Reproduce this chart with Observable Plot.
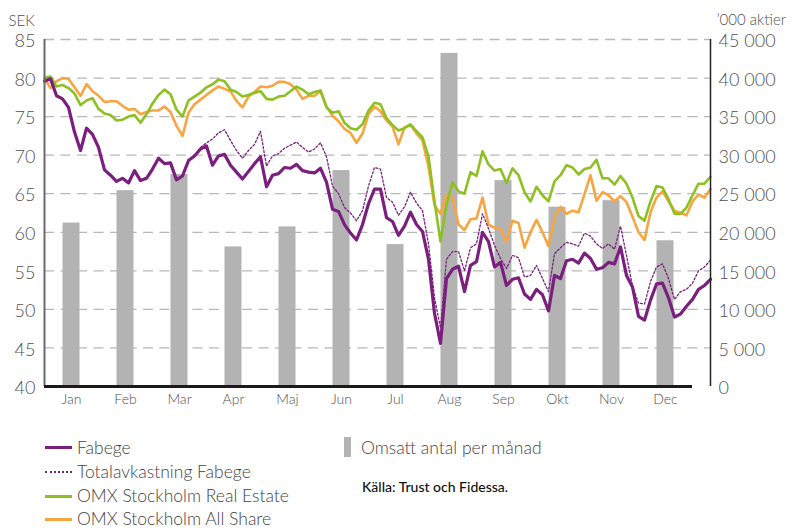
<!DOCTYPE html>
<html>
<head>
<meta charset="utf-8">
<script src="https://cdn.jsdelivr.net/npm/d3@7"></script>
<script src="https://cdn.jsdelivr.net/npm/@observablehq/plot@0.6"></script>
<style>
  body { margin: 0; background: #fff; }
  #wrap { position: relative; width: 795px; height: 530px; font-family: Lato, "Open Sans", sans-serif; overflow: hidden; }
  #chart { position: absolute; left: 0; top: 0; }
  .lg { position: absolute; height: 18px; line-height: 18px; font-size: 17.5px; font-weight: 300; color: #444; white-space: nowrap; }
  .sw { position: absolute; }
  .src { position: absolute; font-size: 14px; line-height: 16px; color: #111; font-weight: 500; white-space: nowrap; }
</style>
</head>
<body>
<div id="wrap">
  <div id="chart"></div>
  <div id="legend"></div>
</div>
<script>
// ---------- data ----------
const months = ["Jan","Feb","Mar","Apr","Maj","Jun","Jul","Aug","Sep","Okt","Nov","Dec"];
// Omsatt antal per månad ('000 aktier)
const volume = [21200, 25400, 27500, 18100, 20700, 28000, 18400, 43200, 26700, 23250, 24100, 18900];

// observations, 9 per month unit
const fabege = [
  79.6, 79.9, 77.7, 77.3, 76.2, 73.0, 70.6, 73.5, 72.7, 71.0,
  68.1, 67.4, 66.6, 67.0, 66.4, 68.0, 66.7, 67.0, 68.2, 69.6,
  68.9, 69.0, 66.8, 67.3, 69.3, 69.9, 70.8, 71.2, 68.7, 69.9,
  70.1, 68.7, 67.8, 66.9, 67.9, 68.9, 69.8, 65.9, 67.4, 67.6,
  68.4, 68.3, 68.8, 68.0, 67.8, 67.7, 68.3, 66.5, 63.0, 62.7,
  61.0, 59.9, 59.0, 61.0, 63.7, 65.6, 65.6, 61.9, 61.4, 59.6,
  60.8, 62.6, 61.0, 60.1, 56.5, 49.5, 45.6, 54.0, 55.2, 55.6,
  52.3, 55.7, 56.2, 60.0, 58.8, 55.5, 56.1, 53.1, 53.9, 54.1,
  52.0, 51.3, 52.6, 51.9, 49.8, 54.4, 54.0, 56.3, 56.5, 56.0,
  57.3, 56.6, 55.2, 55.4, 56.1, 55.9, 58.1, 54.4, 52.9, 49.1,
  48.6, 51.2, 53.3, 53.4, 51.5, 49.0, 49.4, 50.4, 51.3, 52.6,
  53.1, 53.9
];
const totalReturn = [
  79.6, 79.9, 77.7, 77.3, 76.2, 73.0, 70.6, 73.5, 72.7, 71.0,
  68.1, 67.4, 66.6, 67.0, 66.4, 68.0, 66.7, 67.0, 68.2, 69.6,
  68.9, 69.0, 66.8, 67.3, 69.3, 69.9, 71.0, 71.6, 72.1, 72.9,
  73.3, 71.9, 70.6, 69.6, 70.6, 71.4, 73.1, 68.6, 69.9, 70.2,
  70.9, 71.3, 71.7, 71.0, 70.4, 70.8, 71.6, 69.8, 66.0, 65.0,
  63.2, 62.5, 61.5, 62.8, 66.0, 68.4, 68.2, 64.5, 63.9, 62.2,
  63.3, 65.2, 63.8, 62.8, 58.5, 51.5, 47.6, 56.5, 57.5, 57.5,
  55.0, 58.0, 58.5, 62.4, 60.5, 58.3, 56.6, 55.3, 57.0, 56.7,
  54.2, 54.4, 55.7, 54.0, 52.3, 57.2, 58.0, 58.7, 58.5, 58.2,
  59.9, 59.5, 58.5, 57.9, 58.5, 57.8, 60.8, 57.0, 53.0, 50.8,
  50.7, 53.6, 55.5, 55.9, 54.0, 51.3, 52.3, 52.6, 53.4, 55.0,
  55.5, 56.4
];
const realEstate = [
  80.0, 80.2, 78.9, 79.1, 78.7, 78.0, 76.5, 77.1, 77.4, 76.0,
  75.4, 75.2, 74.5, 74.6, 75.0, 75.2, 74.2, 75.3, 76.7, 77.8,
  78.5, 77.9, 75.9, 75.0, 77.1, 77.6, 78.1, 78.8, 79.2, 79.8,
  79.6, 78.5, 78.2, 77.6, 77.8, 78.1, 78.3, 77.3, 77.2, 77.6,
  77.7, 78.3, 78.9, 78.5, 77.9, 78.2, 78.4, 76.2, 75.5, 75.7,
  74.2, 73.5, 73.3, 74.0, 75.8, 76.8, 76.6, 74.8, 73.9, 73.2,
  73.5, 74.0, 73.1, 72.3, 69.8, 64.0, 58.8, 63.6, 66.5, 65.3,
  65.0, 67.8, 67.3, 70.5, 68.8, 68.0, 68.2, 66.4, 68.3, 67.4,
  65.2, 64.0, 65.9, 64.8, 64.0, 66.6, 67.4, 68.7, 68.4, 67.5,
  68.2, 68.4, 69.4, 67.0, 67.0, 66.2, 67.3, 66.3, 64.5, 62.1,
  61.5, 64.0, 66.0, 65.8, 64.3, 62.4, 62.4, 63.2, 64.8, 66.3,
  66.3, 67.2
];
const allShare = [
  80.0, 78.7, 79.6, 80.0, 79.9, 78.8, 77.7, 79.2, 78.3, 77.7,
  76.9, 77.0, 77.0, 76.4, 75.9, 76.0, 75.3, 75.6, 75.8, 75.8,
  76.3, 75.6, 73.8, 72.5, 75.5, 76.6, 77.2, 77.8, 78.4, 78.9,
  78.6, 78.3, 77.0, 76.2, 77.6, 78.2, 78.9, 78.8, 79.0, 79.5,
  79.5, 79.2, 78.5, 77.3, 77.7, 77.7, 78.3, 76.3, 75.1, 74.4,
  73.4, 72.9, 71.6, 72.8, 75.3, 76.3, 75.7, 74.5, 73.7, 71.4,
  73.6, 73.9, 72.8, 71.9, 68.5, 63.5, 62.4, 64.8, 64.5, 61.0,
  60.3, 61.7, 61.8, 64.5, 61.0, 60.6, 60.5, 58.8, 61.5, 61.2,
  58.0, 60.0, 61.6, 60.0, 58.2, 62.0, 63.3, 62.4, 62.8, 62.6,
  64.95, 67.4, 64.1, 65.2, 64.8, 64.0, 64.7, 63.9, 62.0, 60.0,
  59.0, 62.6, 64.5, 65.3, 64.0, 62.8, 62.5, 62.2, 64.0, 64.9,
  64.5, 65.6
];

const yTicks = [40, 45, 50, 55, 60, 65, 70, 75, 80, 85];
const gridVals = [45, 50, 55, 60, 65, 70, 75, 80, 85];

// ---------- helpers ----------
const perMonth = 9;                          // observations per month unit
const xMax = (fabege.length - 1) / perMonth; // line series spans the whole plot width
const toRows = (arr) => arr.map((v, k) => ({x: k / perMonth, y: v}));
const volRows = volume.map((v, i) => ({m: i, v}));
const volToSek = (v) => 40 + v / 1000;       // right axis: 0 ↔ 40 SEK, 45 000 ↔ 85 SEK
const fmt = d3.formatLocale({thousands: " ", grouping: [3], decimal: ","}).format(",d");

const C = {purple: "#7b1f7f", green: "#8dc021", orange: "#f8a541", bar: "#b3b3b4"};

const chart = Plot.plot({
  width: 795,
  height: 420,
  marginLeft: 44,
  marginRight: 85,
  marginTop: 39,
  marginBottom: 34,
  style: {fontFamily: "Lato, sans-serif", color: "#505050", background: "transparent"},
  x: {domain: [0, xMax]},
  y: {domain: [40, 85]},
  marks: [
    Plot.ruleY(gridVals, {stroke: "#b8b8b8", strokeWidth: 1.3, strokeDasharray: "10,6.5"}),
    Plot.rectY(volRows, {x1: "m", x2: d => d.m + 1, y1: 40, y2: d => volToSek(d.v), fill: C.bar, insetLeft: 18.5, insetRight: 18.5}),
    Plot.line(toRows(allShare), {x: "x", y: "y", stroke: C.orange, strokeWidth: 2.6, strokeLinejoin: "round"}),
    Plot.line(toRows(realEstate), {x: "x", y: "y", stroke: C.green, strokeWidth: 2.6, strokeLinejoin: "round"}),
    Plot.line(toRows(totalReturn), {x: "x", y: "y", stroke: C.purple, strokeWidth: 1.3, strokeDasharray: "2,2"}),
    Plot.line(toRows(fabege), {x: "x", y: "y", stroke: C.purple, strokeWidth: 3.2, strokeLinejoin: "round"}),
    Plot.ruleX([0], {y1: 40, y2: 85, stroke: "#6a6a6a", strokeWidth: 2}),
    Plot.ruleX([xMax], {y1: 40, y2: 85, stroke: "#222", strokeWidth: 1.5}),
    Plot.ruleY([40], {x1: 0, x2: months.length, stroke: "#1a1a1a", strokeWidth: 3}),
    Plot.axisY({ticks: yTicks, tickSize: 0, tickPadding: 9, dy: 2, fontSize: 18, fontWeight: 300, label: null}),
    Plot.axisY({anchor: "right", ticks: yTicks, tickSize: 0, tickPadding: 8, dy: 2, fontSize: 18, fontWeight: 300, label: null,
      tickFormat: d => fmt((d - 40) * 1000)}),
    Plot.axisX({ticks: months.map((m, i) => i + 0.5), tickFormat: d => months[Math.floor(d)], tickSize: 0, tickPadding: 8, fontSize: 14, fontWeight: 300, label: null}),
    Plot.text(["SEK"], {frameAnchor: "top-left", dx: -36, dy: -24, textAnchor: "start", fontSize: 15, fontWeight: 300, fill: "#505050"}),
    Plot.text(["\u2019000 aktier"], {frameAnchor: "top-right", dx: 6, dy: -25, textAnchor: "start", fontSize: 15, fontWeight: 300, fill: "#505050"})
  ]
});
document.getElementById("chart").appendChild(chart);

// ---------- legend ----------
const legend = document.getElementById("legend");
const items = [
  {label: "Fabege", color: C.purple, type: "solid", w: 3.2, cy: 448},
  {label: "Totalavkastning Fabege", color: C.purple, type: "dot", w: 2, cy: 472},
  {label: "OMX Stockholm Real Estate", color: C.green, type: "solid", w: 3, cy: 496},
  {label: "OMX Stockholm All Share", color: C.orange, type: "solid", w: 3, cy: 519}
];
for (const it of items) {
  const sw = document.createElement("div");
  sw.className = "sw";
  sw.style.left = "45px";
  sw.style.width = "27px";
  sw.style.top = (it.cy - it.w / 2) + "px";
  sw.style.height = "0px";
  sw.style.borderTop = `${it.w}px ${it.type === "dot" ? "dotted" : "solid"} ${it.color}`;
  legend.appendChild(sw);
  const t = document.createElement("div");
  t.className = "lg";
  t.style.left = "77px";
  t.style.top = (it.cy - 9) + "px";
  t.textContent = it.label;
  legend.appendChild(t);
}
const bsw = document.createElement("div");
bsw.className = "sw";
Object.assign(bsw.style, {left: "344px", top: "437px", width: "7px", height: "20px", background: C.bar});
legend.appendChild(bsw);
const bt = document.createElement("div");
bt.className = "lg";
Object.assign(bt.style, {left: "361px", top: (448 - 9) + "px"});
bt.textContent = "Omsatt antal per månad";
legend.appendChild(bt);
const src = document.createElement("div");
src.className = "src";
Object.assign(src.style, {left: "362px", top: "479px"});
src.textContent = "Källa: Trust och Fidessa.";
legend.appendChild(src);
</script>
</body>
</html>
